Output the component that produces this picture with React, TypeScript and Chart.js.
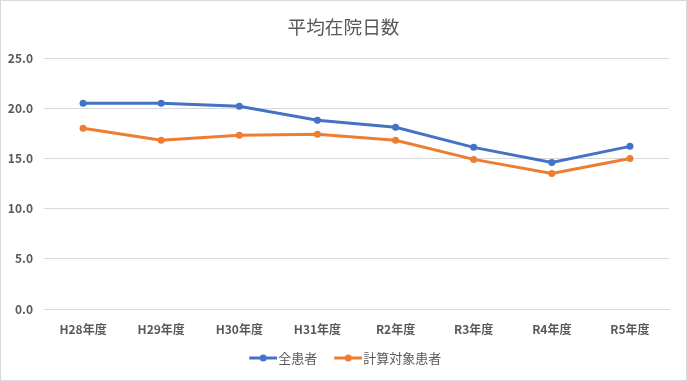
import React, { useEffect, useRef } from "react";
import { Chart, registerables } from "chart.js";

Chart.register(...registerables);

const title = "平均在院日数";
const categories = ["H28年度", "H29年度", "H30年度", "H31年度", "R2年度", "R3年度", "R4年度", "R5年度"];
const seriesNames = ["全患者", "計算対象患者"];
const allPatients = [20.5, 20.5, 20.2, 18.8, 18.1, 16.1, 14.6, 16.2];
const targetPatients = [18.0, 16.8, 17.3, 17.4, 16.8, 14.9, 13.5, 15.0];
const yTicks = [0, 5, 10, 15, 20, 25];

const BLUE = "#4472C4";
const ORANGE = "#ED7D31";
const TEXT = "#595959";
const GRID = "#D9D9D9";
const FONT = "'Noto Sans CJK JP', 'Noto Sans', sans-serif";

const BOX_W = 26;
const ICON_W = 37;
function legendIcon(color: string): HTMLCanvasElement {
  const c = document.createElement("canvas");
  c.width = ICON_W;
  c.height = 8;
  const g = c.getContext("2d")!;
  const x0 = ICON_W - 28;
  g.strokeStyle = color;
  g.lineWidth = 3;
  g.beginPath();
  g.moveTo(x0, 4);
  g.lineTo(ICON_W, 4);
  g.stroke();
  g.fillStyle = color;
  g.beginPath();
  g.arc(x0 + 14, 4, 3.5, 0, Math.PI * 2);
  g.fill();
  return c;
}

export default function App() {
  const ref = useRef<HTMLCanvasElement | null>(null);
  useEffect(() => {
    document.body.style.margin = "0";
    const icons = [legendIcon(BLUE), legendIcon(ORANGE)];
    const chart = new Chart(ref.current!, {
      type: "line",
      data: {
        labels: categories,
        datasets: [
          {
            label: seriesNames[0],
            data: allPatients,
            borderColor: BLUE,
            backgroundColor: BLUE,
            borderWidth: 3,
            pointRadius: 3.5,
            pointBorderWidth: 0,
            tension: 0,
          },
          {
            label: seriesNames[1],
            data: targetPatients,
            borderColor: ORANGE,
            backgroundColor: ORANGE,
            borderWidth: 3,
            pointRadius: 3.5,
            pointBorderWidth: 0,
            tension: 0,
          },
        ],
      },
      options: {
        responsive: false,
        animation: false,
        layout: { padding: { left: 0, right: 0, top: 0, bottom: 5.5 } },
        plugins: {
          title: {
            display: true,
            text: title,
            color: TEXT,
            font: { family: FONT, size: 18.67, weight: "normal" },
            padding: { top: 15, bottom: 19.6 },
          },
          legend: {
            position: "bottom",
            labels: {
              color: TEXT,
              font: { family: FONT, size: 13 },
              usePointStyle: true,
              pointStyleWidth: BOX_W,
              padding: 13.5,
              generateLabels: (ch: any) =>
                ch.data.datasets.map((d: any, i: number) => ({
                  text: d.label,
                  fillStyle: d.backgroundColor,
                  strokeStyle: d.borderColor,
                  fontColor: TEXT,
                  pointStyle: icons[i],
                  datasetIndex: i,
                  hidden: false,
                  lineWidth: 0,
                })),
            },
          },
          tooltip: { enabled: false },
        },
        scales: {
          x: {
            offset: true,
            grid: { display: false },
            border: { color: GRID },
            ticks: { color: TEXT, font: { family: FONT, size: 12, weight: "bold" }, padding: 5 },
            afterFit: (s: any) => {
              s.height = 29;
            },
          },
          y: {
            min: yTicks[0],
            max: yTicks[yTicks.length - 1],
            afterBuildTicks: (s: any) => {
              s.ticks = yTicks.map((v) => ({ value: v }));
            },
            grid: { color: GRID, drawTicks: false },
            border: { display: false },
            ticks: {
              color: TEXT,
              font: { family: FONT, size: 12, weight: "bold" },
              padding: 11,
              callback: (v: any) => Number(v).toFixed(1),
            },
            afterFit: (s: any) => {
              s.width = 43;
            },
          },
          spacer: {
            type: "linear",
            position: "right",
            display: true,
            grid: { display: false },
            border: { display: false },
            ticks: { display: false },
            afterFit: (s: any) => {
              s.width = 17;
            },
          },
        },
      },
    });
    return () => chart.destroy();
  }, []);
  return (
    <div
      style={{
        width: 687,
        height: 381,
        boxSizing: "border-box",
        border: "1px solid #D9D9D9",
        background: "#fff",
      }}
    >
      <canvas ref={ref} width={685} height={379} style={{ display: "block" }} />
    </div>
  );
}
